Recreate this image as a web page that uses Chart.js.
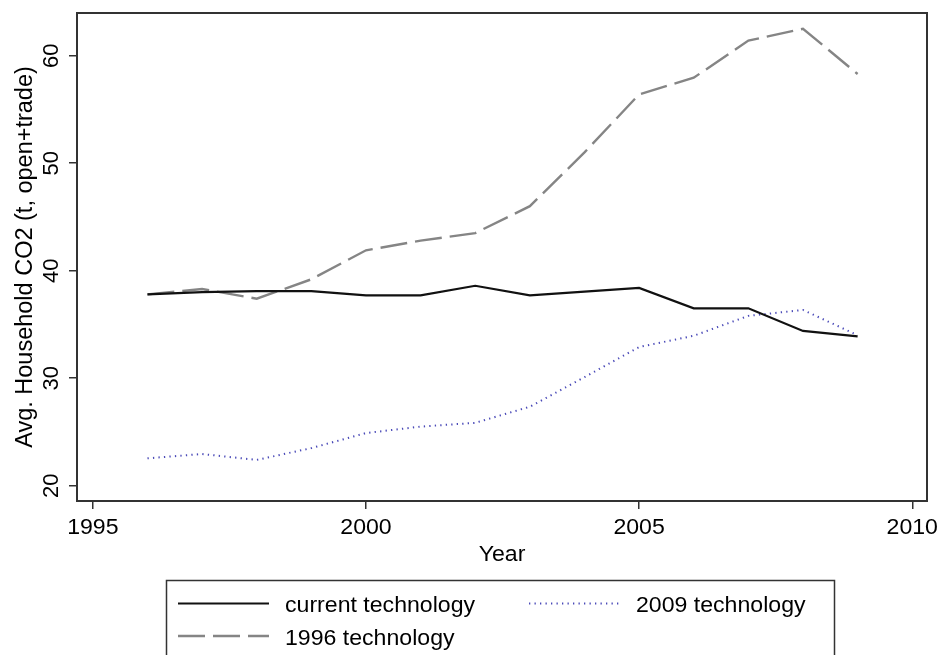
<!DOCTYPE html>
<html>
<head>
<meta charset="utf-8">
<script src="https://cdn.jsdelivr.net/npm/chart.js@4.4.0/dist/chart.umd.min.js"></script>
<style>
html,body{margin:0;padding:0;background:#fff;overflow:hidden}
#wrap{width:939px;height:655px;position:relative}
</style>
</head>
<body>
<div id="wrap"><canvas id="c" width="939" height="655"></canvas></div>
<script>
// ---- data ----
const years = [1996, 1997, 1998, 1999, 2000, 2001, 2002, 2003, 2004, 2005, 2006, 2007, 2008, 2009];
const currentTech = [37.8, 38.0, 38.1, 38.1, 37.7, 37.7, 38.6, 37.7, 38.05, 38.4, 36.5, 36.5, 34.4, 33.9];
const tech2009 = [22.55, 22.95, 22.4, 23.5, 24.9, 25.5, 25.85, 27.35, 30.1, 32.9, 33.95, 35.8, 36.35, 34.0];
const tech1996 = [37.8, 38.3, 37.4, 39.2, 41.9, 42.8, 43.5, 46.0, 51.0, 56.4, 57.95, 61.4, 62.5, 58.3];
const seriesLabels = ['current technology', '2009 technology', '1996 technology'];
const xTicks = [1995, 2000, 2005, 2010];
const yTicks = [20, 30, 40, 50, 60];
const xTitle = 'Year';
const yTitle = 'Avg. Household CO2 (t, open+trade)';

const FONT = '"Liberation Sans", Arial, Helvetica, sans-serif';
const FS = 22;

function pts(vals) { return years.map((y, i) => ({ x: y, y: vals[i] })); }

const textPlugin = {
  id: 'texts',
  afterDraw(chart) {
    const ctx = chart.ctx;
    const xs = chart.scales.x, ys = chart.scales.y, a = chart.chartArea;
    ctx.save();
    ctx.fillStyle = '#000';
    ctx.font = FS + 'px ' + FONT;
    // x tick labels
    ctx.textAlign = 'center';
    ctx.textBaseline = 'alphabetic';
    xTicks.forEach(v => {
      ctx.save();
      ctx.translate(xs.getPixelForValue(v), 533.5);
      ctx.scale(1.05, 1);
      ctx.fillText(String(v), 0, 0);
      ctx.restore();
    });
    // y tick labels (rotated)
    yTicks.forEach(v => {
      ctx.save();
      ctx.translate(57.5, ys.getPixelForValue(v));
      ctx.rotate(-Math.PI / 2);
      ctx.fillText(String(v), 0, 0);
      ctx.restore();
    });
    // x title
    ctx.save();
    ctx.translate((a.left + a.right) / 2, 561);
    ctx.scale(1.05, 1);
    ctx.fillText(xTitle, 0, 0);
    ctx.restore();
    // y title
    ctx.save();
    ctx.font = '23.5px ' + FONT;
    ctx.translate(32, (a.top + a.bottom) / 2);
    ctx.rotate(-Math.PI / 2);
    ctx.fillText(yTitle, 0, 0);
    ctx.restore();
    // frame
    ctx.strokeStyle = '#333';
    ctx.lineWidth = 2;
    ctx.strokeRect(a.left, a.top, a.right - a.left, a.bottom - a.top);
    // legend
    ctx.lineWidth = 1.5;
    ctx.strokeStyle = '#333';
    ctx.strokeRect(166.5, 580.5, 668, 120);
    const cols = [178, 529];
    const rows = [603.5, 636];
    const sampleLen = 91;
    chart.data.datasets.forEach((ds, i) => {
      const cx = cols[i % 2], cy = rows[Math.floor(i / 2)];
      ctx.save();
      ctx.strokeStyle = ds.borderColor;
      ctx.lineWidth = ds.borderWidth;
      ctx.setLineDash(ds.borderDash || []);
      ctx.beginPath();
      ctx.moveTo(cx, cy);
      ctx.lineTo(cx + sampleLen, cy);
      ctx.stroke();
      ctx.restore();
      ctx.save();
      ctx.textAlign = 'left';
      ctx.translate(cx + sampleLen + 16, cy + 8.5);
      ctx.scale(1.05, 1);
      ctx.fillText(ds.label, 0, 0);
      ctx.restore();
    });
    ctx.restore();
  }
};

new Chart(document.getElementById('c'), {
  type: 'line',
  data: {
    datasets: [
      { label: seriesLabels[0], data: pts(currentTech), borderColor: '#111111', borderWidth: 2.2,
        pointRadius: 0, tension: 0, fill: false, order: 0 },
      { label: seriesLabels[1], data: pts(tech2009), borderColor: '#4a4ab8', borderWidth: 2,
        borderDash: [1.3, 4.2], pointRadius: 0, tension: 0, fill: false, order: 2 },
      { label: seriesLabels[2], data: pts(tech1996), borderColor: '#858585', borderWidth: 2.4,
        borderDash: [27, 8], pointRadius: 0, tension: 0, fill: false, order: 1 }
    ]
  },
  options: {
    responsive: false,
    animation: false,
    devicePixelRatio: 1,
    layout: { padding: { top: 13, right: 12, left: 0, bottom: 0 } },
    plugins: { legend: { display: false }, tooltip: { enabled: false }, title: { display: false } },
    scales: {
      x: {
        type: 'linear',
        min: 1994.71,
        max: 2010.27,
        afterBuildTicks: s => { s.ticks = xTicks.map(v => ({ value: v })); },
        afterFit: s => { s.height = 154; },
        ticks: { display: false },
        grid: { drawOnChartArea: false, drawTicks: true, tickLength: 8, color: '#333', lineWidth: 1.5 },
        border: { display: true, color: '#333', width: 2 }
      },
      y: {
        type: 'linear',
        min: 18.58,
        max: 63.97,
        afterBuildTicks: s => { s.ticks = yTicks.map(v => ({ value: v })); },
        afterFit: s => { s.width = 77; },
        ticks: { display: false },
        grid: { drawOnChartArea: false, drawTicks: true, tickLength: 8, color: '#333', lineWidth: 1.5 },
        border: { display: true, color: '#333', width: 2 }
      }
    }
  },
  plugins: [textPlugin]
});
</script>
</body>
</html>
